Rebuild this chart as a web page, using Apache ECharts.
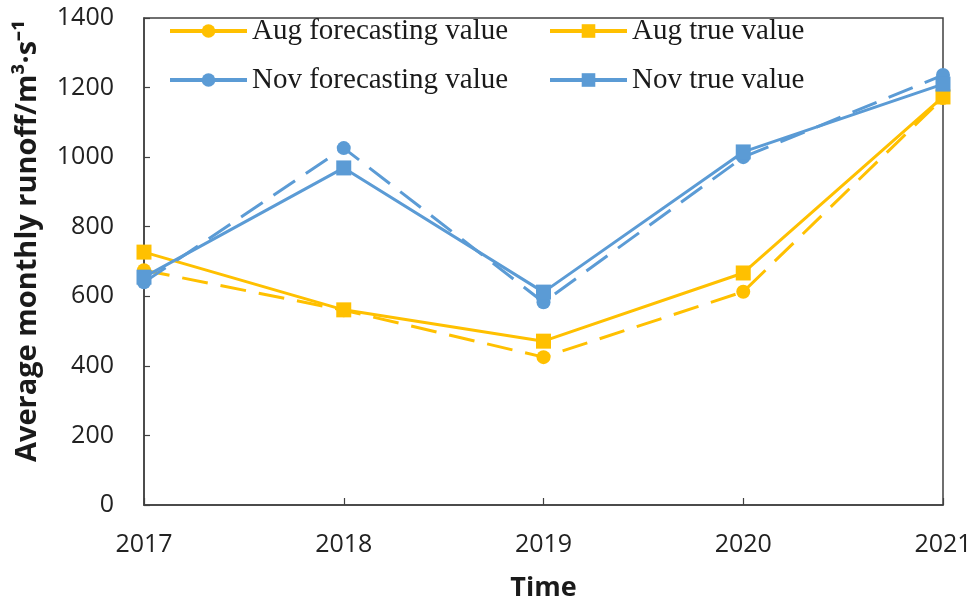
<!DOCTYPE html>
<html>
<head>
<meta charset="utf-8">
<script src="https://cdn.jsdelivr.net/npm/echarts@6/dist/echarts.min.js"></script>
<style>
  html, body { margin: 0; padding: 0; background: #ffffff; }
  #chart { width: 974px; height: 604px; }
</style>
</head>
<body>
<div id="chart"></div>
<script>
// Monthly runoff: forecasts vs observed, August and November
const years = ['2017', '2018', '2019', '2020', '2021'];
const augForecast = [675, 560, 425, 613, 1170];
const augTrue = [727, 561, 471, 667, 1173];
const novForecast = [640, 1026, 583, 1000, 1236];
const novTrue = [655, 969, 612, 1015, 1210];
const yTicks = [0, 200, 400, 600, 800, 1000, 1200, 1400];

const seriesNames = ['Aug forecasting value', 'Aug true value', 'Nov forecasting value', 'Nov true value'];
const YELLOW = '#FFC000';
const BLUE = '#5B9BD5';
const AXIS = '#404040';
const SANS = '"Open Sans", "Liberation Sans", sans-serif';
const SERIF = '"Liberation Serif", "DejaVu Serif", serif';

function makeSeries(name, data, color, symbol, dashed) {
  return {
    name: name,
    type: 'line',
    data: data,
    symbol: symbol,
    symbolSize: symbol === 'circle' ? 14 : 15,
    itemStyle: { color: color },
    lineStyle: { color: color, width: 3, type: dashed ? [26, 13] : 'solid' },
    emphasis: { disabled: true },
    animation: false
  };
}

function legendAt(name, left, top) {
  return {
    data: [name],
    left: left,
    top: top,
    padding: 0,
    itemWidth: 77,
    itemHeight: 17,
    itemGap: 0,
    selectedMode: false,
    lineStyle: { type: 'solid', width: 4 },
    textStyle: { fontFamily: SERIF, fontSize: 29, color: '#1a1a1a', lineHeight: 30 }
  };
}

const chart = echarts.init(document.getElementById('chart'), null, { renderer: 'canvas' });
chart.setOption({
  backgroundColor: '#ffffff',
  animation: false,
  grid: {
    left: 144, right: 31, top: 18, bottom: 99,
    outerBoundsMode: 'none',
    containLabel: false,
    show: true, borderColor: AXIS, borderWidth: 1.5, backgroundColor: 'transparent'
  },
  legend: [
    legendAt(seriesNames[0], 168, 16),
    legendAt(seriesNames[1], 548, 16),
    legendAt(seriesNames[2], 168, 65),
    legendAt(seriesNames[3], 548, 65)
  ],
  xAxis: {
    type: 'category',
    data: years,
    boundaryGap: false,
    name: 'Time',
    nameLocation: 'middle',
    nameGap: 70,
    nameTextStyle: { fontFamily: SANS, fontSize: 27, fontWeight: 'bold', color: '#1a1a1a' },
    axisLine: { lineStyle: { color: AXIS, width: 1.5 } },
    axisTick: { inside: true, length: 7, lineStyle: { color: AXIS, width: 1.2 } },
    axisLabel: { fontFamily: SANS, fontSize: 25, color: '#222', margin: 27 },
    splitLine: { show: false }
  },
  yAxis: {
    type: 'value',
    min: 0, max: 1400, interval: 200,
    axisLine: { show: true, lineStyle: { color: AXIS, width: 1.5 } },
    axisTick: { show: true, inside: true, length: 6, lineStyle: { color: AXIS, width: 1.2 } },
    axisLabel: {
      fontFamily: SANS, fontSize: 25, color: '#222', margin: 30,
      formatter: function (v) { return yTicks.indexOf(v) >= 0 ? String(v) : ''; }
    },
    splitLine: { show: false }
  },
  graphic: [{
    type: 'text',
    x: 28,
    y: 241,
    rotation: Math.PI / 2,
    style: {
      text: 'Average monthly runoff/m³·s⁻¹',
      fontFamily: SANS,
      fontSize: 29,
      fontWeight: 'bold',
      fill: '#1a1a1a',
      align: 'center',
      verticalAlign: 'middle'
    }
  }],
  series: [
    makeSeries(seriesNames[0], augForecast, YELLOW, 'circle', true),
    makeSeries(seriesNames[1], augTrue, YELLOW, 'rect', false),
    makeSeries(seriesNames[2], novForecast, BLUE, 'circle', true),
    makeSeries(seriesNames[3], novTrue, BLUE, 'rect', false)
  ]
});
</script>
</body>
</html>
